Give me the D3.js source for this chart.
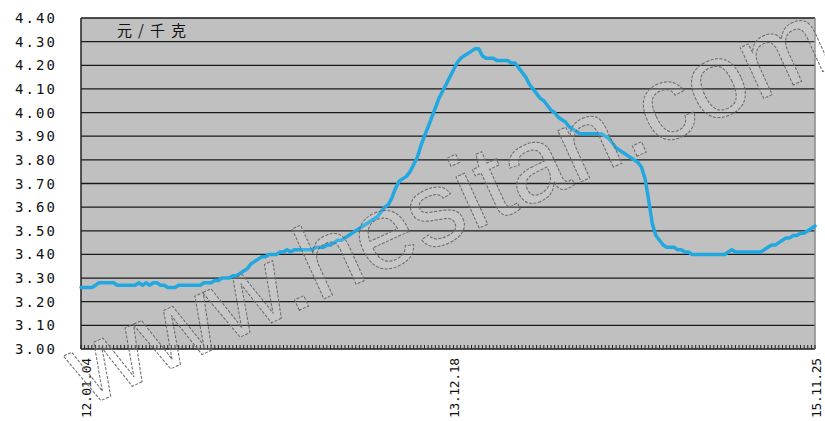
<!DOCTYPE html>
<html>
<head>
<meta charset="utf-8">
<script src="https://cdn.jsdelivr.net/npm/d3@7"></script>
<style>
  body { margin: 0; background: #fff; }
  svg { display: block; }
</style>
</head>
<body>
<svg class="chart"></svg>
<script>
// weekly price, yuan per kg, 12.01.04 .. 15.11.25
var prices = [
  3.26,3.26,3.26,3.26,3.27,3.28,3.28,3.28,3.28,3.28,
  3.27,3.27,3.27,3.27,3.27,3.27,3.28,3.27,3.28,3.27,
  3.28,3.28,3.27,3.27,3.26,3.26,3.26,3.27,3.27,3.27,
  3.27,3.27,3.27,3.27,3.28,3.28,3.28,3.29,3.29,3.30,
  3.30,3.30,3.31,3.31,3.32,3.33,3.34,3.36,3.37,3.38,
  3.39,3.39,3.40,3.40,3.40,3.41,3.41,3.42,3.41,3.42,
  3.42,3.42,3.42,3.42,3.42,3.43,3.43,3.43,3.44,3.44,
  3.45,3.46,3.46,3.47,3.48,3.49,3.50,3.51,3.52,3.53,
  3.54,3.55,3.56,3.58,3.60,3.61,3.64,3.68,3.71,3.72,
  3.73,3.75,3.78,3.81,3.86,3.90,3.94,3.98,4.02,4.06,
  4.09,4.12,4.15,4.18,4.21,4.23,4.24,4.25,4.26,4.27,
  4.27,4.24,4.23,4.23,4.23,4.22,4.22,4.22,4.22,4.21,
  4.21,4.19,4.17,4.15,4.12,4.10,4.08,4.06,4.05,4.03,
  4.01,4.00,3.98,3.97,3.96,3.94,3.93,3.92,3.91,3.91,
  3.91,3.91,3.91,3.91,3.91,3.90,3.89,3.87,3.85,3.84,
  3.83,3.82,3.81,3.80,3.79,3.77,3.72,3.63,3.53,3.48,
  3.46,3.44,3.43,3.43,3.43,3.42,3.42,3.41,3.41,3.40,
  3.40,3.40,3.40,3.40,3.40,3.40,3.40,3.40,3.40,3.41,
  3.42,3.41,3.41,3.41,3.41,3.41,3.41,3.41,3.41,3.42,
  3.43,3.44,3.44,3.45,3.46,3.47,3.47,3.48,3.48,3.49,
  3.49,3.50,3.51,3.52
];
var dateLabels = ["12.01.04", "13.12.18", "15.11.25"];
var dateIndex = [0, 102, 203];
var yTicks = [3.00,3.10,3.20,3.30,3.40,3.50,3.60,3.70,3.80,3.90,4.00,4.10,4.20,4.30,4.40];
var unitLabel = "元/千克";
var watermark = "www.hesitan.com";

var W = 825, H = 421;
var plotL = 81, plotR = 815, plotT = 18, plotB = 349;

var svg = d3.select(".chart").attr("width", W).attr("height", H);

var x = d3.scaleLinear().domain([0, prices.length - 1]).range([plotL, plotR]);
var y = d3.scaleLinear().domain([3.0, 4.4]).range([plotB, plotT]);

// plot background
svg.append("rect")
  .attr("x", plotL).attr("y", plotT)
  .attr("width", plotR - plotL).attr("height", plotB - plotT)
  .attr("fill", "#c0c0c0");

// grid lines
svg.append("g").selectAll("line")
  .data(yTicks).enter().append("line")
  .attr("x1", plotL).attr("x2", plotR)
  .attr("y1", function(d) { return y(d); })
  .attr("y2", function(d) { return y(d); })
  .attr("stroke", "#1a1a1a").attr("stroke-width", 1.3);

// borders
svg.append("line").attr("x1", plotR).attr("x2", plotR).attr("y1", plotT).attr("y2", plotB)
  .attr("stroke", "#8a8a8a").attr("stroke-width", 1.5);
svg.append("line").attr("x1", plotL).attr("x2", plotL).attr("y1", plotT).attr("y2", plotB)
  .attr("stroke", "#222").attr("stroke-width", 1.5);

// weekly tick marks on the bottom axis
svg.append("g").selectAll("line")
  .data(prices).enter().append("line")
  .attr("x1", function(d, i) { return x(i); })
  .attr("x2", function(d, i) { return x(i); })
  .attr("y1", plotB).attr("y2", plotB - 4)
  .attr("stroke", "#222").attr("stroke-width", 1);

// y labels
svg.append("g").selectAll("text")
  .data(yTicks).enter().append("text")
  .attr("x", 15)
  .attr("y", function(d) { return y(d); })
  .attr("dy", "0.36em")
  .attr("textLength", 40).attr("lengthAdjust", "spacing")
  .attr("font-family", "DejaVu Sans Mono, monospace")
  .attr("font-size", 14)
  .attr("fill", "#111")
  .text(function(d) { return d.toFixed(2); });

// x labels
svg.append("g").selectAll("text")
  .data(dateLabels).enter().append("text")
  .attr("transform", function(d, i) {
    return "translate(" + (x(dateIndex[i]) + (i == 2 ? 1 : 5)) + ",358) rotate(-90)";
  })
  .attr("text-anchor", "end")
  .attr("dy", "0.36em")
  .attr("textLength", 60).attr("lengthAdjust", "spacing")
  .attr("font-family", "DejaVu Sans Mono, monospace")
  .attr("font-size", 13)
  .attr("fill", "#111")
  .text(function(d) { return d; });

// unit
svg.append("text")
  .attr("x", 117).attr("y", 31).attr("dy", "0.36em")
  .attr("textLength", 69).attr("lengthAdjust", "spacing")
  .attr("font-family", "Noto Sans CJK SC, sans-serif")
  .attr("font-size", 15)
  .attr("fill", "#111")
  .text(unitLabel);

// price line
var line = d3.line()
  .x(function(d, i) { return x(i); })
  .y(function(d) { return y(d); });

svg.append("path")
  .datum(prices)
  .attr("d", line)
  .attr("fill", "none")
  .attr("stroke", "#22a8e0")
  .attr("stroke-width", 3.5)
  .attr("stroke-linejoin", "round")
  .attr("stroke-linecap", "round");

// watermark
svg.append("text")
  .attr("transform", "translate(462,236) rotate(-24.5)")
  .attr("text-anchor", "middle")
  .attr("font-family", "Liberation Sans, Arial, sans-serif")
  .attr("font-size", 106)
  .attr("fill", "rgba(255,255,255,0.12)")
  .attr("stroke", "#6a6a6a")
  .attr("stroke-width", 1)
  .attr("stroke-dasharray", "3,1.5")
  .text(watermark);
</script>
</body>
</html>
